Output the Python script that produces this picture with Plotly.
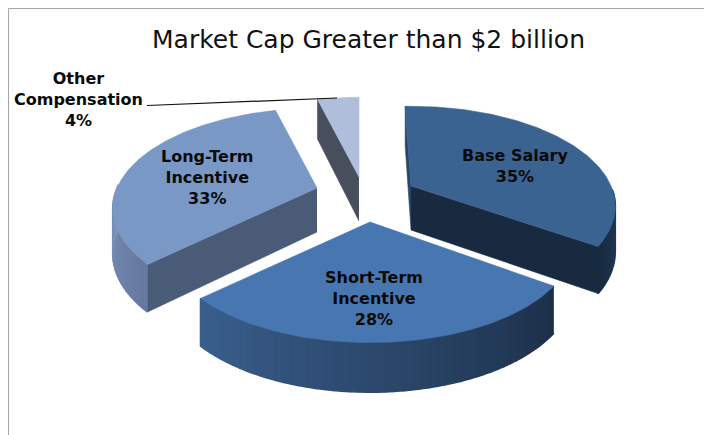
import numpy as np
import plotly.graph_objects as go

categories = ["Base Salary", "Short-Term Incentive", "Long-Term Incentive", "Other Compensation"]
values = [35, 28, 33, 4]
label_text = ["Base Salary<br>35%", "Short-Term<br>Incentive<br>28%", "Long-Term<br>Incentive<br>33%", "Other<br>Compensation<br>4%"]
top_colors = ["#3b6392", "#4876b0", "#7a98c5", "#afbedb"]
title_text = "Market Cap Greater than $2 billion"

# layout / styling (pixel space of the 712x435 page)
apex = [(411, 186), (370, 222), (317, 188), (359, 177)]
slice_rot = [-2, 0, 0, 0]
label_xy = [(515, 166), (374, 298), (207, 177), (78, 99)]
A, B, K, D = 200.0, 96.0, 0.204, 44.0


def proj(th_deg, r=1.0):
    th = np.radians(th_deg)
    u, v = r * np.sin(th), r * np.cos(th)
    den = 1 + K * v
    return A * u / den, -B * v / den


def drop(th_deg, r=1.0):
    v = r * np.cos(np.radians(th_deg))
    return D / (1 + 0.55 * K * v)


def lerp(c1, c2, t):
    c1 = [int(c1[i:i + 2], 16) for i in (1, 3, 5)]
    c2 = [int(c2[i:i + 2], 16) for i in (1, 3, 5)]
    return "rgb(%d,%d,%d)" % tuple(round(a + (b - a) * t) for a, b in zip(c1, c2))


fig = go.Figure()


def poly(xs, ys, color, lw=0.6):
    fig.add_trace(go.Scatter(
        x=list(xs), y=list(ys), mode="lines", fill="toself", fillcolor=color,
        line=dict(color=color, width=lw), hoverinfo="skip", showlegend=False))


def radial_face(ap, th, color):
    dx, dy = proj(th)
    d0, d1 = drop(th, 0), drop(th)
    poly([ap[0], ap[0] + dx, ap[0] + dx, ap[0]],
         [ap[1], ap[1] + dy, ap[1] + dy + d1, ap[1] + d0], color)


def arc_side(ap, t0, t1, c0, c1, n=36):
    ts = np.linspace(t0, t1, n + 1)
    for i in range(n):
        a, b = ts[i], ts[i + 1]
        ax, ay = proj(a)
        bx, by = proj(b)
        poly([ap[0] + ax, ap[0] + bx, ap[0] + bx, ap[0] + ax],
             [ap[1] + ay, ap[1] + by, ap[1] + by + drop(b), ap[1] + ay + drop(a)],
             lerp(c0, c1, (i + 0.5) / n), lw=1.6)


def top_face(ap, t0, t1, color):
    ts = np.linspace(t0, t1, 120)
    dx, dy = proj(ts)
    poly(np.r_[ap[0], ap[0] + dx, ap[0]], np.r_[ap[1], ap[1] + dy, ap[1]], color)


edges = np.r_[0, np.cumsum(values)] * 3.6
ang = [(edges[i] + slice_rot[i], edges[i + 1] + slice_rot[i]) for i in range(4)]

# far to near: Other, Long-Term, Base Salary, Short-Term
t0, t1 = ang[3]
radial_face(apex[3], t0, "#484f5c")
top_face(apex[3], t0, t1, top_colors[3])

t0, t1 = ang[2]
arc_side(apex[2], t0, 272, "#65799f", "#7f94b8", 20)
radial_face(apex[2], t0, "#4a5b78")
top_face(apex[2], t0, t1, top_colors[2])

t0, t1 = ang[0]
radial_face(apex[0], t0, "#2a4468")
arc_side(apex[0], 92, t1, "#24405f", "#182a3f", 14)
radial_face(apex[0], t1, "#182a3f")
top_face(apex[0], t0, t1, top_colors[0])

t0, t1 = ang[1]
arc_side(apex[1], t0, t1, "#1c2f48", "#3a5f8e", 50)
top_face(apex[1], t0, t1, top_colors[1])

# leader line for the small slice
fig.add_trace(go.Scatter(x=[147, 337], y=[105.5, 98], mode="lines",
                         line=dict(color="#111111", width=1.2),
                         hoverinfo="skip", showlegend=False))

for txt, (lx, ly) in zip(label_text, label_xy):
    fig.add_annotation(x=lx, y=ly, text=txt, showarrow=False, xref="x", yref="y",
                       font=dict(family="DejaVu Sans", size=16, color="#0a0a0a", weight="bold"),
                       align="center")

fig.add_annotation(x=368, y=39, text=title_text, showarrow=False, xref="x", yref="y",
                   font=dict(family="DejaVu Sans", size=25, color="#111111"))

# the page has an 8px body margin: the plot starts at (8,8), so the ranges start there too
fig.update_layout(
    width=704, height=427, margin=dict(l=0, r=0, t=0, b=0),
    paper_bgcolor="white", plot_bgcolor="white", showlegend=False,
    xaxis=dict(range=[8, 712], visible=False, fixedrange=True),
    yaxis=dict(range=[435, 8], visible=False, fixedrange=True),
    shapes=[dict(type="line", xref="x", yref="y", x0=8.5, x1=8.5, y0=8.5, y1=435,
                 line=dict(color="#a6a6a6", width=1)),
            dict(type="line", xref="x", yref="y", x0=8.5, x1=712, y0=8.5, y1=8.5,
                 line=dict(color="#a6a6a6", width=1))],
)
fig.write_html("out.html", config=dict(displayModeBar=False))
